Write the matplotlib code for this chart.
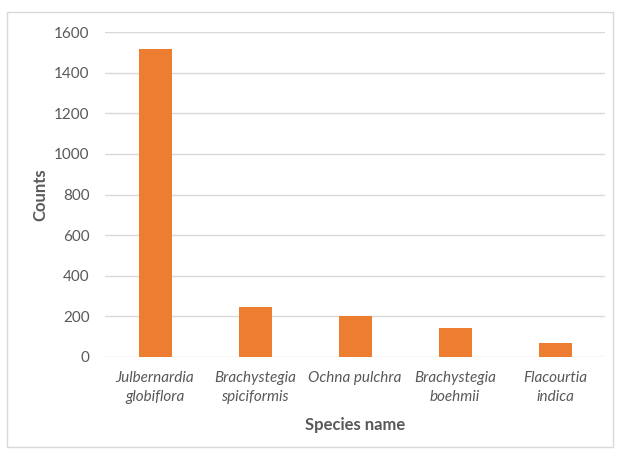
import matplotlib
matplotlib.use("Agg")
import matplotlib.pyplot as plt
from matplotlib.patches import Rectangle

species = ["Julbernardia\nglobiflora", "Brachystegia\nspiciformis", "Ochna pulchra",
           "Brachystegia\nboehmii", "Flacourtia\nindica"]
counts = [1515, 248, 204, 142, 71]
yticks = [0, 200, 400, 600, 800, 1000, 1200, 1400, 1600]

plt.rcParams['font.family'] = ['Lato', 'DejaVu Sans']

fig = plt.figure(figsize=(6.19, 4.49), dpi=100)
ax = fig.add_axes([105/619, 1 - 357/449, 500/619, 325/449])

x = range(len(species))
ax.bar(x, counts, width=0.33, color="#ED7D31", zorder=3)

ax.set_ylim(0, 1600)
ax.set_xlim(-0.5, len(species) - 0.5)
ax.set_yticks(yticks)
ax.set_yticklabels([str(v) for v in yticks], fontsize=11, color="#595959")
ax.set_xticks(list(x))
ax.set_xticklabels(species, fontsize=11, color="#595959", style="italic", linespacing=1.5)
ax.tick_params(axis="both", length=0)
ax.tick_params(axis="y", pad=11)
ax.tick_params(axis="x", pad=10)
ax.grid(axis="y", color="#D9D9D9", lw=1, zorder=0)
for s in ax.spines.values():
    s.set_visible(False)

ax.set_ylabel("Counts", fontsize=12, fontweight="bold", color="#595959", labelpad=4)
ax.set_xlabel("Species name", fontsize=12, fontweight="bold", color="#595959", labelpad=9)

fig.patches.append(Rectangle((7/619, 2/449), 606/619, 435/449, transform=fig.transFigure,
                             fill=False, ec="#D9D9D9", lw=1))

fig.savefig("out.png", dpi=100)
